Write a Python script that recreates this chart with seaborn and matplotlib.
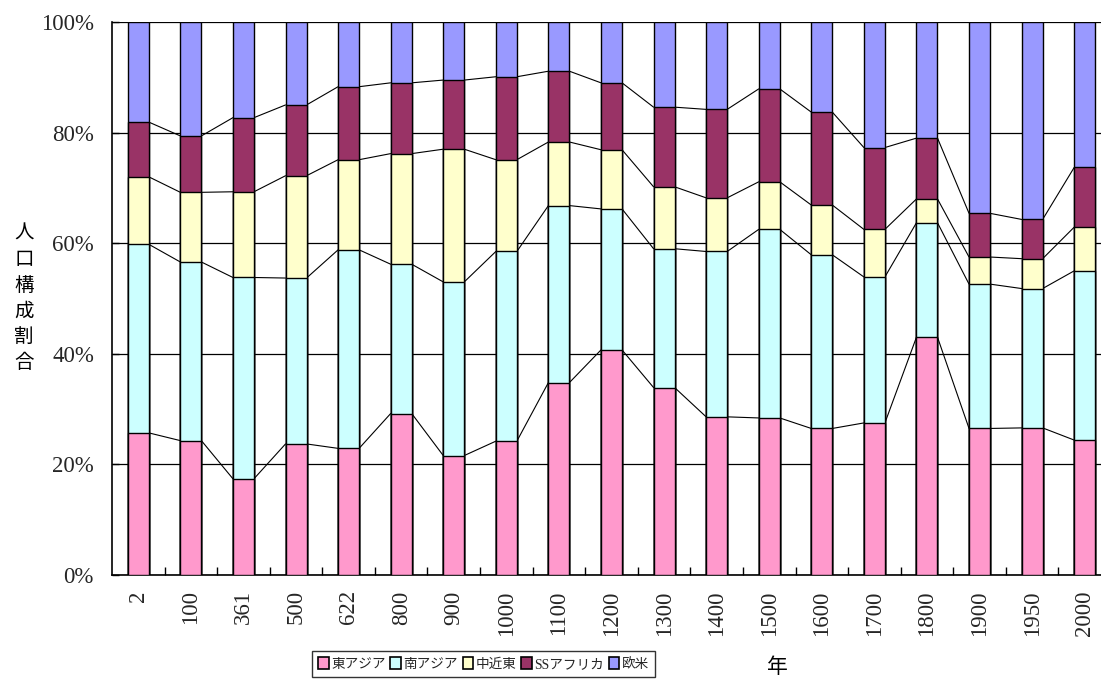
import numpy as np
import pandas as pd
import matplotlib
matplotlib.use("Agg")
import matplotlib.pyplot as plt
from matplotlib.patches import Patch
import seaborn as sns

years = ["2", "100", "361", "500", "622", "800", "900", "1000", "1100", "1200",
         "1300", "1400", "1500", "1600", "1700", "1800", "1900", "1950", "2000"]
regions = ["東アジア", "南アジア", "中近東", "SSアフリカ", "欧米"]
east_asia = [25.7, 24.3, 17.4, 23.7, 22.9, 29.2, 21.6, 24.2, 34.8, 40.7,
             33.9, 28.6, 28.4, 26.5, 27.5, 43.0, 26.5, 26.6, 24.4]
south_asia = [34.1, 32.3, 36.4, 30.0, 35.9, 27.0, 31.4, 34.3, 32.0, 25.5,
              25.1, 29.9, 34.1, 31.4, 26.4, 20.7, 26.1, 25.2, 30.6]
middle_east = [12.2, 12.6, 15.5, 18.5, 16.3, 20.0, 24.0, 16.6, 11.5, 10.7,
               11.2, 9.7, 8.6, 9.0, 8.6, 4.3, 4.9, 5.4, 7.9]
ss_africa = [9.9, 10.2, 13.4, 12.8, 13.2, 12.8, 12.5, 15.0, 12.8, 12.1,
             14.4, 16.0, 16.8, 16.8, 14.8, 11.0, 7.9, 7.1, 10.8]
europe_america = [18.1, 20.6, 17.3, 15.0, 11.7, 11.0, 10.5, 9.9, 8.9, 11.0,
                  15.4, 15.8, 12.1, 16.3, 22.7, 21.0, 34.6, 35.7, 26.3]
colors = ["#FF99CC", "#CCFFFF", "#FFFFCC", "#993366", "#9999FF"]

sns.set_theme(style="white")
plt.rcParams["font.family"] = ["Liberation Serif", "Noto Sans CJK JP"]

series = np.array([east_asia, south_asia, middle_east, ss_africa, europe_america])
raw_tot = series.sum(axis=0)
shares = series / raw_tot * 100.0
cum = np.cumsum(shares, axis=0)

fig = plt.figure(figsize=(11.01, 6.82), dpi=100)
ax = fig.add_axes([112 / 1101, 107 / 682, 999 / 1101, 553 / 682])

bw = 0.4
for k in range(4, -1, -1):
    df = pd.DataFrame({"year": years, "value": cum[k]})
    sns.barplot(data=df, x="year", y="value", order=years, color=colors[k],
                saturation=1, width=bw, edgecolor="black", linewidth=1.0,
                ax=ax, zorder=3)

# series lines connecting stacked tops
n = len(years)
for k in range(4):
    xs, ys = [], []
    for i in range(n - 1):
        xs += [i + bw / 2, i + 1 - bw / 2, np.nan]
        ys += [cum[k][i], cum[k][i + 1], np.nan]
    ax.plot(xs, ys, color="black", lw=0.8, zorder=2)

ax.set_xlim(-0.5, 18.5)
ax.set_ylim(0, 100)
ax.set_yticks([0, 20, 40, 60, 80, 100])
ax.set_yticklabels(["0%", "20%", "40%", "60%", "80%", "100%"], fontsize=16.5)
ax.set_xticks(range(n))
ax.set_xticklabels(years, rotation=90, fontsize=16.5, va="top")
ax.set_xticks(np.arange(0.5, n - 1, 1.0), minor=True)
ax.tick_params(axis="x", which="major", length=0, pad=11)
ax.tick_params(axis="x", which="minor", direction="in", length=6, width=1, color="black", bottom=True)
ax.tick_params(axis="y", direction="in", length=5, width=1, color="black", left=True, pad=13)
ax.yaxis.grid(True, color="black", lw=0.9)
ax.set_axisbelow(True)
ax.set_xlabel("")
ax.set_ylabel("")
for s in ["top", "right"]:
    ax.spines[s].set_visible(False)
for s in ["left", "bottom"]:
    ax.spines[s].set_color("black")
    ax.spines[s].set_linewidth(1.2)

fig.text(24 / 1101, 1 - 298 / 682, "人\n口\n構\n成\n割\n合", ha="center", va="center",
         fontsize=14, family=["Noto Sans CJK JP"], linespacing=1.3, color="black")
fig.text(777 / 1101, 1 - 667 / 682, "年", ha="center", va="center", fontsize=15,
         family=["Noto Sans CJK JP"], color="black")

handles = [Patch(facecolor=c, edgecolor="black", linewidth=1.2) for c in colors]
leg = fig.legend(handles, regions, loc="upper left", bbox_to_anchor=(312 / 1101, 1 - 651 / 682),
                 ncol=5, frameon=True, handlelength=0.8, handleheight=1.0,
                 handletextpad=0.15, columnspacing=0.35, borderpad=0.45, borderaxespad=0,
                 fancybox=False, prop={"family": ["Liberation Serif", "Noto Sans CJK JP"], "size": 9.8})
leg.get_frame().set_edgecolor("black")
leg.get_frame().set_linewidth(1.0)

fig.savefig("out.png", dpi=100)
